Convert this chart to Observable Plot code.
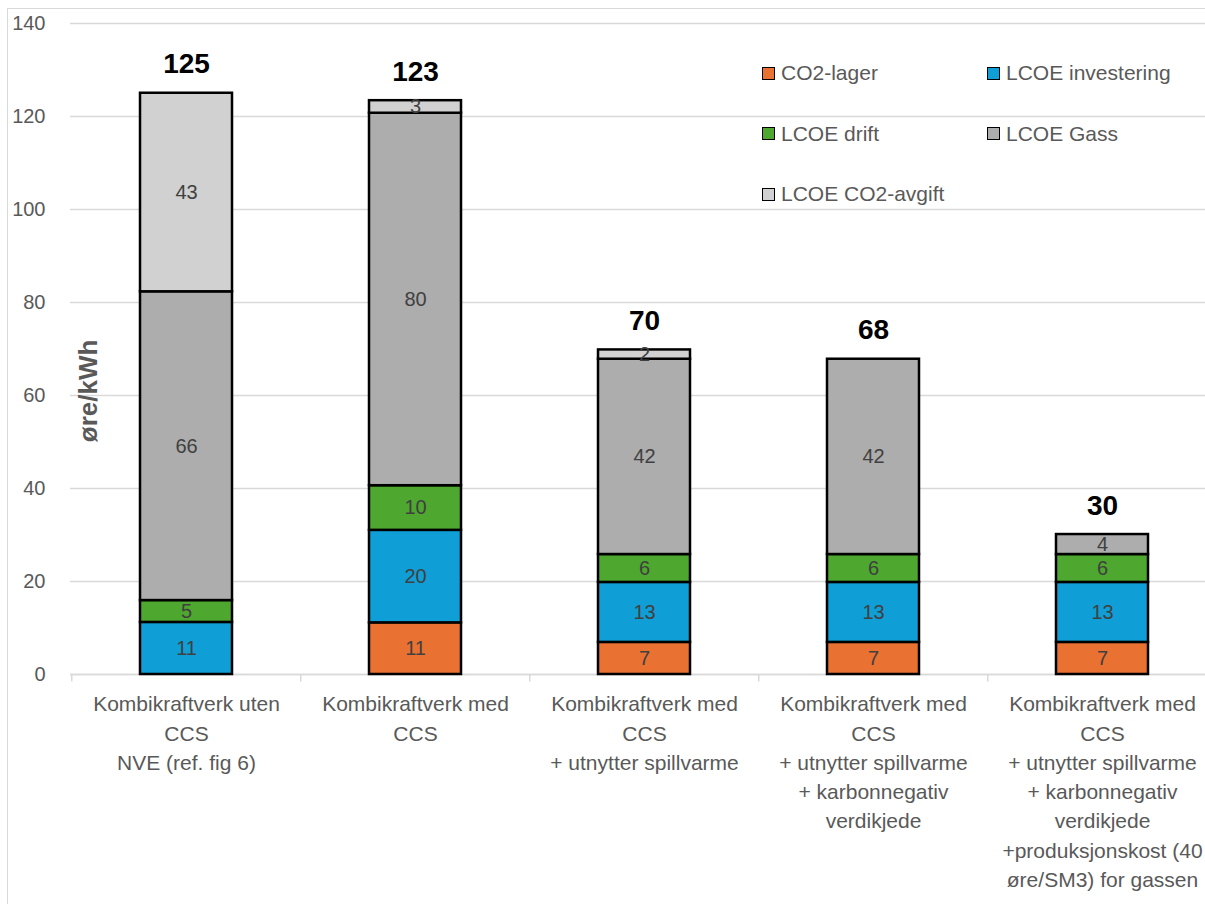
<!DOCTYPE html>
<html>
<head>
<meta charset="utf-8">
<script src="https://cdn.jsdelivr.net/npm/d3@7"></script>
<script src="https://cdn.jsdelivr.net/npm/@observablehq/plot@0.6"></script>
<style>
  html, body { margin: 0; padding: 0; background: #fff; overflow: hidden; }
  #wrap { position: relative; width: 1205px; height: 904px; overflow: hidden; }
  #frame { position: absolute; left: 7px; top: 8px; width: 1300px; height: 1000px;
           border-left: 1.5px solid #d9d9d9; border-top: 1.5px solid #d9d9d9; box-sizing: border-box; }
  #chart { position: absolute; left: 0; top: 0; }
  #legend { position: absolute; left: 762px; top: 43px; display: grid;
            grid-template-columns: 225px auto; grid-auto-rows: 60.5px;
            font-family: "Liberation Sans", Arial, sans-serif; font-size: 21px; color: #595959; }
  .item { display: flex; align-items: center; white-space: nowrap; }
  .sw { width: 11px; height: 11px; border: 1.5px solid #000; margin-right: 6px; }
</style>
</head>
<body>
<div id="wrap">
  <div id="frame"></div>
  <div id="chart"></div>
  <div id="legend"></div>
</div>
<script>
const categories = [
  "Kombikraftverk uten\nCCS\nNVE (ref. fig 6)",
  "Kombikraftverk med\nCCS",
  "Kombikraftverk med\nCCS\n+ utnytter spillvarme",
  "Kombikraftverk med\nCCS\n+ utnytter spillvarme\n+ karbonnegativ\nverdikjede",
  "Kombikraftverk med\nCCS\n+ utnytter spillvarme\n+ karbonnegativ\nverdikjede\n+produksjonskost (40\nøre/SM3) for gassen"
];
const seriesNames = ["CO2-lager", "LCOE investering", "LCOE drift", "LCOE Gass", "LCOE CO2-avgift"];
const seriesColors = ["#E97132", "#0F9ED5", "#4EA72E", "#ADADAD", "#D1D1D1"];
const co2Lager     = [0,    11.1,  6.9,  6.9, 6.9];
const investering  = [11.2, 19.9, 12.9, 12.9, 12.9];
const drift        = [4.7,   9.6,  6.0,  6.0, 6.0];
const gass         = [66.4, 80.1, 42.0, 42.0, 4.3];
const co2Avgift    = [42.7,  2.7,  2.0,  0,   0];
const yTicks = [0, 20, 40, 60, 80, 100, 120, 140];
const yLabel = "øre/kWh";

const seriesValues = [co2Lager, investering, drift, gass, co2Avgift];
const data = [];
seriesNames.forEach((s, si) => {
  categories.forEach((c, ci) => {
    data.push({category: c, series: s, value: seriesValues[si][ci]});
  });
});
const totals = categories.map((c, ci) => ({
  category: c,
  total: seriesValues.reduce((a, arr) => a + arr[ci], 0)
}));
const nonzero = data.filter(d => d.value > 0);

const font = '"Liberation Sans", Arial, sans-serif';
const step = (1217.5 - 70) / categories.length;

const chart = Plot.plot({
  width: 1205,
  height: 904,
  marginTop: 23,
  marginBottom: 230,
  marginLeft: 70,
  marginRight: 0,
  style: {fontFamily: font, background: "transparent", overflow: "visible"},
  x: {domain: categories, range: [70, 1217.5], paddingInner: 0.6, paddingOuter: 0.3, axis: null},
  y: {domain: [0, 140], range: [674, 23], axis: null},
  color: {domain: seriesNames, range: seriesColors},
  marks: [
    Plot.gridY(yTicks, {stroke: "#d9d9d9", strokeOpacity: 1, strokeWidth: 1.5}),
    Plot.axisY({ticks: yTicks, tickSize: 0, tickPadding: 25, fontSize: 20, color: "#595959", label: null}),
    Plot.ruleY([0], {stroke: "#d9d9d9", strokeWidth: 1.5}),
    Plot.ruleX(categories, {x: d => d, dx: -step / 2, y1: 0, y2: -1.6, stroke: "#d9d9d9", strokeWidth: 1.5}),
    Plot.barY(nonzero, Plot.stackY({
      x: "category", y: "value", fill: "series", z: "series", order: seriesNames,
      stroke: "#000", strokeWidth: 2.5
    })),
    Plot.text(nonzero, Plot.stackY({
      x: "category", y: "value", z: "series", order: seriesNames,
      text: d => String(Math.round(d.value)),
      fill: "#404040", fontSize: 20
    })),
    Plot.text(totals, {
      x: "category", y: "total", text: d => String(Math.round(d.total)),
      lineAnchor: "bottom", dy: -20, fontSize: 28, fontWeight: "bold", fill: "#000"
    }),
    Plot.text(categories, {
      x: d => d, text: d => d, frameAnchor: "bottom", lineAnchor: "top",
      dy: 16, fontSize: 21, lineHeight: 1.395, fill: "#595959"
    }),
    Plot.text([yLabel], {
      text: d => d, y: [61], frameAnchor: "left", textAnchor: "middle", rotate: -90, dx: 18,
      fontSize: 26, fontWeight: "bold", fill: "#595959"
    })
  ]
});
document.getElementById("chart").appendChild(chart);

const legend = document.getElementById("legend");
seriesNames.forEach((s, i) => {
  const item = document.createElement("div");
  item.className = "item";
  const sw = document.createElement("span");
  sw.className = "sw";
  sw.style.background = seriesColors[i];
  const t = document.createElement("span");
  t.textContent = s;
  item.appendChild(sw);
  item.appendChild(t);
  legend.appendChild(item);
});
</script>
</body>
</html>
